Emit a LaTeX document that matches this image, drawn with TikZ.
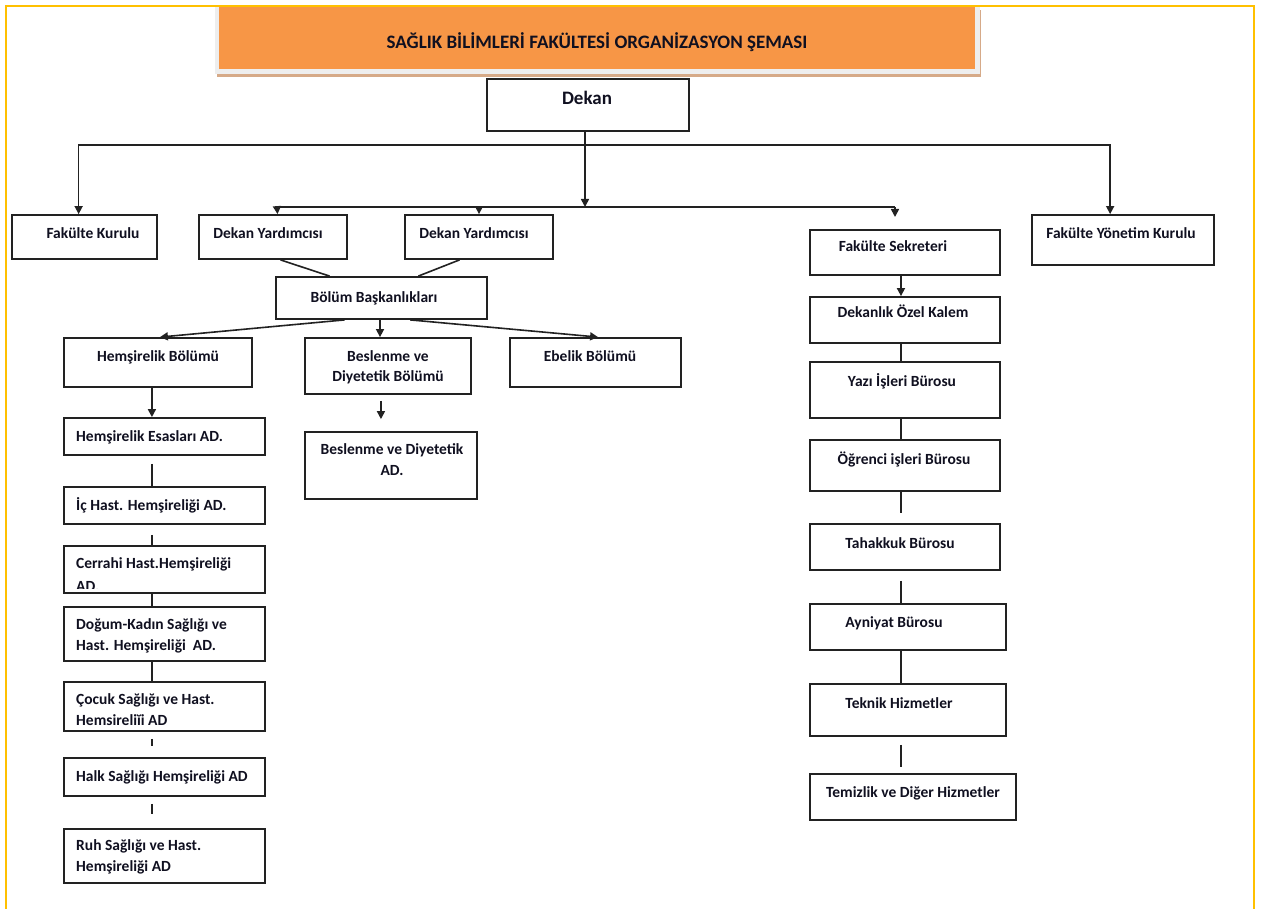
\documentclass[tikz,border=0pt]{standalone}
\usepackage{fontspec}
\setmainfont{Carlito}
\usetikzlibrary{arrows.meta,fit,calc}
\definecolor{orangeT}{HTML}{F79646}
\definecolor{frameY}{HTML}{FFC000}
\definecolor{lineC}{HTML}{222222}
\definecolor{txtC}{HTML}{101020}
\definecolor{shadowC}{HTML}{D6AA88}
\definecolor{grayC}{HTML}{EEEEEE}
\tikzset{
  box/.style={draw=lineC, line width=1.8pt, fill=white, inner sep=0pt},
  txt/.style={font=\fontsize{15.5}{20}\selectfont\bfseries, text=txtC, inner sep=0pt},
  bigtxt/.style={txt, font=\fontsize{19}{22}\selectfont\bfseries},
  conn/.style={draw=lineC, line width=1.6pt},
  arr/.style={conn, -{Triangle[length=8pt,width=8pt]}},
}
\newcommand\bx[5]{\node[box, fit={(#2,#3) (#4,#5)}] (#1) {};}
\newcommand\tl[5]{\node[txt, anchor=#4] (#1) at (#2,#3) {#5};}
\begin{document}
\begin{tikzpicture}[x=1pt,y=-1pt]
\useasboundingbox (0,0) rectangle (1261,909);
\fill[white] (0,0) rectangle (1261,909);
% title
\fill[shadowC] (217,10) rectangle (981,77);
\fill[grayC] (215,6) rectangle (980,74);
\fill[orangeT] (219,7) rectangle (975,69);
\node[bigtxt, anchor=base] (title) at (597,49) {SAĞLIK BİLİMLERİ FAKÜLTESİ ORGANİZASYON ŞEMASI};
% frame
\draw[frameY, line width=2pt] (6,909) -- (6,6) -- (1254,6) -- (1254,909);
% boxes
\bx{Dek}{487}{79}{689}{131}
\bx{FK}{12}{215}{157}{259}
\bx{DY1}{199}{215}{347}{259}
\bx{DY2}{405}{215}{553}{259}
\bx{FYK}{1032}{215}{1214}{265}
\bx{FS}{810}{230}{1000}{275}
\bx{BB}{276}{277}{487}{319}
\bx{HB}{64}{338}{252}{387}
\bx{BES}{305}{338}{471}{394}
\bx{EB}{510}{338}{681}{387}
\bx{BDAD}{305}{432}{477}{499}
\bx{HEAD}{64}{418}{265}{455}
\bx{IC}{64}{487}{265}{524}
\bx{CER}{64}{546}{265}{593}
\bx{DOG}{64}{607}{265}{661}
\bx{COC}{64}{682}{265}{731}
\bx{HALK}{64}{758}{265}{796}
\bx{RUH}{64}{829}{265}{883}
\bx{DOK}{810}{297}{1000}{343}
\bx{YAZ}{810}{362}{1000}{418}
\bx{OGR}{810}{440}{1000}{491}
\bx{TAH}{810}{524}{1000}{570}
\bx{AYN}{810}{604}{1006}{650}
\bx{TEK}{810}{684}{1006}{736}
\bx{TEM}{810}{774}{1016}{820}
% texts
\node[bigtxt, anchor=base] (tDek) at (587,105) {Dekan};
\tl{tFK}{93}{239}{base}{Fakülte Kurulu}
\tl{tDY1}{268}{239}{base}{Dekan Yardımcısı}
\tl{tDY2}{474}{239}{base}{Dekan Yardımcısı}
\tl{tFYK}{1121}{239}{base}{Fakülte Yönetim Kurulu}
\tl{tFS}{893}{252}{base}{Fakülte Sekreteri}
\tl{tBB}{374}{302}{base}{Bölüm Başkanlıkları}
\tl{tHB}{158}{361}{base}{Hemşirelik Bölümü}
\tl{tBESa}{388}{361}{base}{Beslenme ve}
\tl{tBESb}{388}{381}{base}{Diyetetik Bölümü}
\tl{tEB}{590}{361}{base}{Ebelik Bölümü}
\tl{tBDADa}{392}{454}{base}{Beslenme ve Diyetetik}
\tl{tBDADb}{392}{475}{base}{AD.}
\tl{tHEAD}{76}{441}{base west}{Hemşirelik Esasları AD.}
\tl{tIC}{76}{510}{base west}{İç Hast. Hemşireliği AD.}
\tl{tCERa}{76}{568}{base west}{Cerrahi Hast.Hemşireliği}
\begin{scope}
\clip (64,546) rectangle (265,588);
\tl{tCERb}{76}{591}{base west}{AD.}
\end{scope}
\tl{tDOGa}{76}{629}{base west}{Doğum-Kadın Sağlığı ve}
\tl{tDOGb}{76}{650}{base west}{Hast. Hemşireliği~ AD.}
\tl{tCOCa}{76}{704}{base west}{Çocuk Sağlığı ve Hast.}
\tl{tCOCb}{76}{725}{base west}{Hemsireliĭi AD}
\tl{tHALK}{76}{781}{base west}{Halk Sağlığı Hemşireliği AD}
\tl{tRUHa}{76}{850}{base west}{Ruh Sağlığı ve Hast.}
\tl{tRUHb}{76}{871}{base west}{Hemşireliği AD}
\tl{tDOK}{903}{318}{base}{Dekanlık Özel Kalem}
\tl{tYAZ}{902}{386}{base}{Yazı İşleri Bürosu}
\tl{tOGR}{904}{464}{base}{Öğrenci işleri Bürosu}
\tl{tTAH}{900}{548}{base}{Tahakkuk Bürosu}
\tl{tAYN}{894}{627}{base}{Ayniyat Bürosu}
\tl{tTEK}{899}{708}{base}{Teknik Hizmetler}
\tl{tTEM}{913}{797}{base}{Temizlik ve Diğer Hizmetler}
% connectors top
\coordinate (j1) at ($(Dek.south)+(-3,13)$);
\coordinate (b1) at (277,207);
\coordinate (b2) at (895,207);
\coordinate (s1) at (895,217);
\draw[conn] (Dek.south -| j1) -- (j1);
\draw[arr] (j1) -| ($(FK.north west)!0.46!(FK.north east)$);
\draw[arr] (j1) -| ($(FYK.north west)!0.43!(FYK.north east)$);
\draw[arr] (j1) -- (j1 |- b1);
\draw[conn] (b1) -- (b2);
\draw[arr] (b1) -- ($(DY1.north west)!0.53!(DY1.north east)$);
\draw[arr] (b1 -| DY2.north) -- (DY2.north);
\draw[arr] (b2) -- (s1);
\draw[conn] ($(DY1.south west)!0.55!(DY1.south east)$) -- ($(BB.north west)!0.256!(BB.north east)$);
\draw[conn] ($(DY2.south west)!0.37!(DY2.south east)$) -- ($(BB.north west)!0.673!(BB.north east)$);
\draw[arr] ($(BB.south west)!0.327!(BB.south east)$) -- ($(HB.north west)!0.51!(HB.north east)$);
\coordinate (bm) at ($(BB.south west)!0.493!(BB.south east)$);
\draw[arr] (bm) -- (bm |- BES.north);
\draw[arr] ($(BB.south west)!0.635!(BB.south east)$) -- ($(EB.north west)!0.515!(EB.north east)$);
% Beslenme
\coordinate (bx) at ($(BES.south west)!0.458!(BES.south east)$);
\coordinate (bx1) at ($(bx)+(0,6)$);
\coordinate (bx2) at ($(bx |- BDAD.north)+(0,-12)$);
\draw[arr] (bx1) -- (bx2);
% left column
\coordinate (hx) at ($(HEAD.north west)!0.438!(HEAD.north east)$);
\draw[arr] (hx |- HB.south) -- (hx);
\draw[conn] ($(hx |- HEAD.south)+(0,8)$) -- (hx |- IC.north);
\draw[conn] ($(hx |- IC.south)+(0,10)$) -- (hx |- CER.north);
\draw[conn] (hx |- CER.south) -- (hx |- DOG.north);
\draw[conn] (hx |- DOG.south) -- (hx |- COC.north);
\draw[conn] ($(hx |- COC.south)+(0,7)$) -- ($(hx |- HALK.north)+(0,-11)$);
\draw[conn] ($(hx |- HALK.south)+(0,7)$) -- ($(hx |- RUH.north)+(0,-14)$);
% right column
\coordinate (rx) at ($(DOK.north west)!0.479!(DOK.north east)$);
\draw[arr] (rx |- FS.south) -- (rx);
\draw[conn] (rx |- DOK.south) -- (rx |- YAZ.north);
\draw[conn] (rx |- YAZ.south) -- (rx |- OGR.north);
\draw[conn] (rx |- OGR.south) -- ($(rx |- TAH.north)+(0,-10)$);
\draw[conn] ($(rx |- TAH.south)+(0,10)$) -- (rx |- AYN.north);
\draw[conn] (rx |- AYN.south) -- (rx |- TEK.north);
\draw[conn] ($(rx |- TEK.south)+(0,8)$) -- ($(rx |- TEM.north)+(0,-6)$);
\end{tikzpicture}
\end{document}
